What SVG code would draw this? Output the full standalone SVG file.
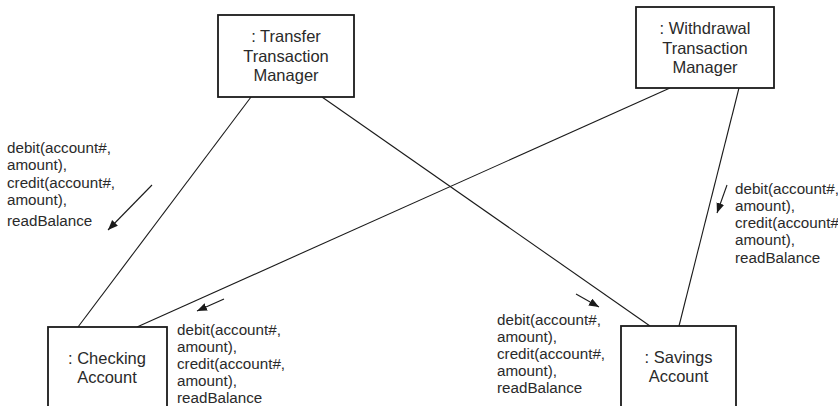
<svg xmlns="http://www.w3.org/2000/svg" width="838" height="406" viewBox="0 0 838 406">
<defs>
<marker id="ah" markerUnits="userSpaceOnUse" markerWidth="12" markerHeight="10" refX="10" refY="4" orient="auto">
<path d="M0,0 L10,4 L0,8 Z" fill="#1a1a1a"/>
</marker>
<style>
.box{fill:#fff;stroke:#1a1a1a;stroke-width:1.8}
.conn{stroke:#1a1a1a;stroke-width:1.1;fill:none}
.arr{stroke:#1a1a1a;stroke-width:1.1;fill:none;marker-end:url(#ah)}
.nl{font-family:"Liberation Sans",Arial,sans-serif;font-size:16.5px;fill:#2a2a2a;text-anchor:middle}
.ml{font-family:"Liberation Sans",Arial,sans-serif;font-size:15.2px;fill:#2a2a2a}
</style>
</defs>
<rect width="838" height="406" fill="#fff"/>
<g id="connectors">
<line class="conn" x1="251" y1="97" x2="78" y2="327"/>
<line class="conn" x1="322" y1="97" x2="650" y2="326"/>
<line class="conn" x1="670" y1="88" x2="137" y2="327"/>
<line class="conn" x1="739" y1="88" x2="679" y2="326"/>
<line class="arr" x1="152" y1="185" x2="108" y2="230"/>
<line class="arr" x1="727" y1="185" x2="717" y2="213"/>
<line class="arr" x1="224" y1="299" x2="197" y2="311"/>
<line class="arr" x1="576" y1="294" x2="599" y2="307"/>
</g>
<g id="transfer">
<rect class="box" x="218" y="15" width="136" height="82"/>
<text class="nl" x="286" y="42">: Transfer</text>
<text class="nl" x="286" y="62">Transaction</text>
<text class="nl" x="286" y="81">Manager</text>
</g>
<g id="withdrawal">
<rect class="box" x="636" y="7" width="138" height="81"/>
<text class="nl" x="705" y="34">: Withdrawal</text>
<text class="nl" x="705" y="54">Transaction</text>
<text class="nl" x="705" y="73">Manager</text>
</g>
<g id="checking">
<rect class="box" x="48" y="327" width="119" height="90"/>
<text class="nl" x="107" y="364">: Checking</text>
<text class="nl" x="107" y="383">Account</text>
</g>
<g id="savings">
<rect class="box" x="621" y="326" width="115" height="90"/>
<text class="nl" x="678.5" y="363">: Savings</text>
<text class="nl" x="678.5" y="382">Account</text>
</g>
<g id="labels">
<text class="ml" x="7" y="153">debit(account#,</text>
<text class="ml" x="7" y="170">amount),</text>
<text class="ml" x="7" y="188">credit(account#,</text>
<text class="ml" x="7" y="205">amount),</text>
<text class="ml" x="7" y="226">readBalance</text>
<text class="ml" x="735" y="194">debit(account#,</text>
<text class="ml" x="735" y="211">amount),</text>
<text class="ml" x="735" y="228">credit(account#</text>
<text class="ml" x="735" y="245">amount),</text>
<text class="ml" x="735" y="263">readBalance</text>
<text class="ml" x="177" y="335">debit(account#,</text>
<text class="ml" x="177" y="352">amount),</text>
<text class="ml" x="177" y="369">credit(account#,</text>
<text class="ml" x="177" y="386">amount),</text>
<text class="ml" x="177" y="403">readBalance</text>
<text class="ml" x="497" y="325">debit(account#,</text>
<text class="ml" x="497" y="342">amount),</text>
<text class="ml" x="497" y="359">credit(account#,</text>
<text class="ml" x="497" y="376">amount),</text>
<text class="ml" x="497" y="393">readBalance</text>
</g>
</svg>
